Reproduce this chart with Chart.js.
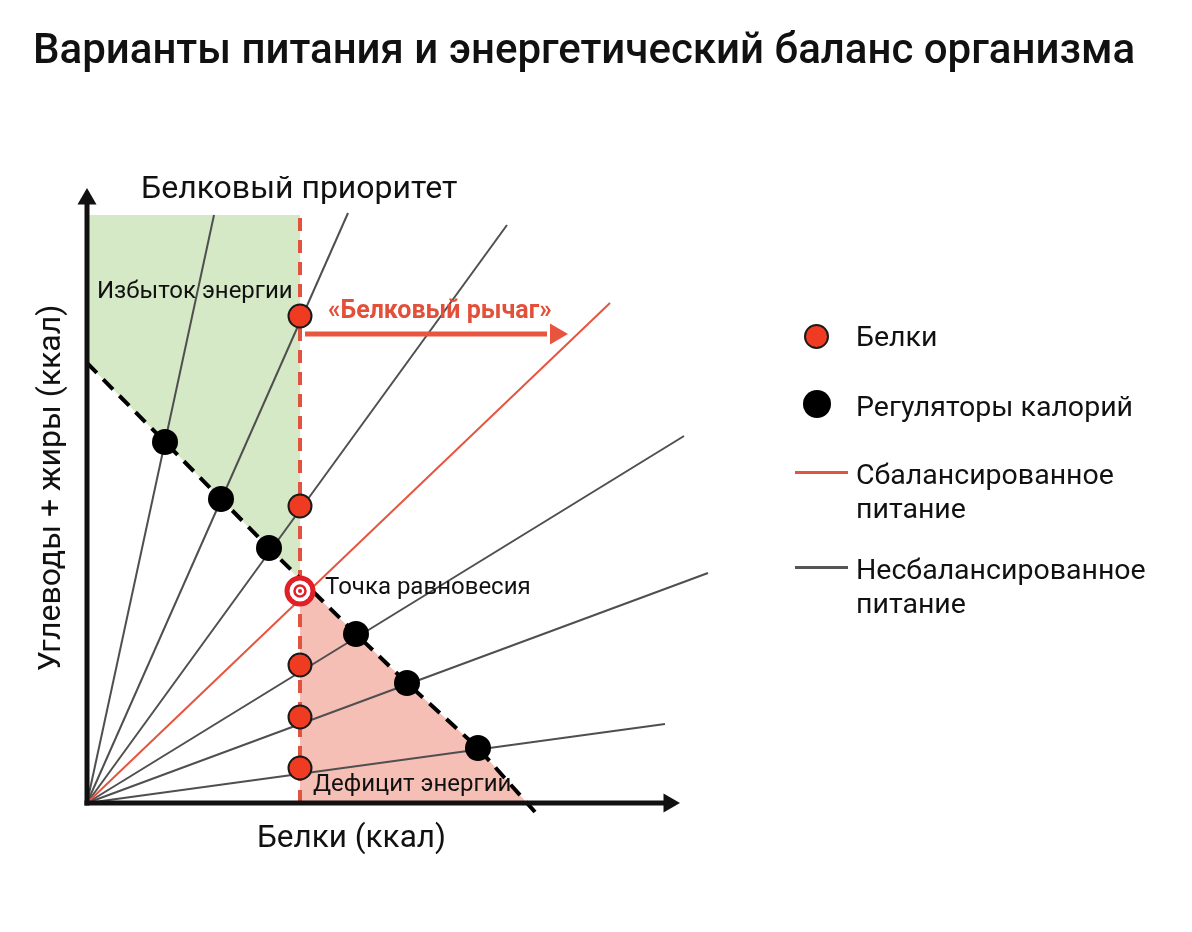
<!DOCTYPE html>
<html lang="ru">
<head>
<meta charset="utf-8">
<title>Варианты питания и энергетический баланс организма</title>
<script src="https://cdn.jsdelivr.net/npm/chart.js@4.4.1/dist/chart.umd.min.js"></script>
<style>
  body { margin: 0; background: #fff; }
  .wrap { position: relative; width: 1192px; height: 932px; overflow: hidden;
          font-family: Roboto, "Noto Sans", sans-serif; color: #111; }
  .wrap canvas { position: absolute; left: 0; top: 0; }
  .t { position: absolute; line-height: 1; white-space: nowrap; }
  .title { left: 33px; top: 28px; font-size: 42px; font-weight: 500; }
  .prio { left: 141px; top: 171px; font-size: 32px; }
  .note { font-size: 24px; }
  .lever { left: 328px; top: 297px; font-size: 25px; font-weight: 700; color: #e3503a; }
  .xtitle { left: 257px; top: 821px; font-size: 31.5px; }
  .ytitle { left: -151px; top: 472px; width: 400px; text-align: center; font-size: 32px;
            transform: rotate(-90deg); }
  .leg { left: 856px; font-size: 28.5px; }
  .leg2 { line-height: 34px; }
  .dot { position: absolute; border-radius: 50%; box-sizing: border-box; }
  .bar { position: absolute; height: 3px; width: 53px; left: 795px; }
</style>
</head>
<body>
<div class="wrap">
  <canvas id="chart" width="1192" height="932"></canvas>

  <div class="t title">Варианты питания и энергетический баланс организма</div>
  <div class="t prio">Белковый приоритет</div>
  <div class="t note" style="left:97px;top:278px">Избыток энергии</div>
  <div class="t lever">«Белковый рычаг»</div>
  <div class="t note" style="left:325px;top:574px">Точка равновесия</div>
  <div class="t note" style="left:313px;top:771px">Дефицит энергии</div>
  <div class="t xtitle">Белки (ккал)</div>
  <div class="t ytitle">Углеводы + жиры (ккал)</div>

  <!-- легенда -->
  <div class="dot" style="left:804px;top:324px;width:25px;height:25px;background:#ef3b22;border:2px solid #1a1a1a"></div>
  <div class="t leg" style="top:323px">Белки</div>
  <div class="dot" style="left:803px;top:390px;width:28px;height:28px;background:#000"></div>
  <div class="t leg" style="top:393px">Регуляторы калорий</div>
  <div class="bar" style="top:471px;background:#e0553f"></div>
  <div class="t leg leg2" style="top:458px">Сбалансированное<br>питание</div>
  <div class="bar" style="top:566px;background:#555"></div>
  <div class="t leg leg2" style="top:553px">Несбалансированное<br>питание</div>
</div>

<script>
// Единицы условные: начало координат - угол осей
// Белки (красные точки) на вертикали белкового приоритета
const proteinX = 21.3;
const proteinY = [48.7, 29.7, 13.8, 8.6, 3.5];

// Регуляторы калорий (черные точки) на линии энергобаланса
const regulatorX = [7.8, 13.4, 18.2, 26.9, 32.0, 39.1];
const regulatorY = [36.1, 30.4, 25.5, 16.9, 12.0, 5.5];

// Линия энергобаланса (пунктир): начало на оси Y и конец под осью X
const balanceStart = [0, 44.0];
const balanceEnd = [44.8, -0.9];
const balanceAtPriority = 22.3; // где пунктир пересекает вертикаль
const deficitCornerX = 44.0;

// Концы несбалансированных лучей из начала координат
const unbalancedEndX = [12.7, 26.1, 42.0, 59.7, 62.1, 57.8];
const unbalancedEndY = [58.8, 59.0, 57.8, 36.7, 23.0, 7.9];

// Сбалансированное питание
const balancedEnd = [52.3, 50.0];
const equilibrium = [21.3, 21.2];

const priorityTop = 58.8;
const leverY = 46.9;
const leverFrom = 21.8;
const leverTo = 46.0;
const leverTip = 46.9;
const axisMaxX = 58.2;
const axisMaxY = 60.4;

const RED = '#e2533f';
const GRAY = '#4f4f4f';

function pt(x, y) { return { x: x, y: y }; }

function line(points, opts) {
    return Object.assign({
        data: points,
        pointRadius: 0,
        borderWidth: 2,
        fill: false,
        tension: 0,
        clip: false,
        order: 2
    }, opts);
}

const regulators = regulatorX.map(function (x, i) { return pt(x, regulatorY[i]); });

// зеленая зона: избыток энергии
const excessShape = [pt(0, priorityTop), pt(proteinX, priorityTop), pt(proteinX, balanceAtPriority)]
    .concat(regulators.filter(function (p) { return p.x < proteinX; }).reverse())
    .concat([pt(balanceStart[0], balanceStart[1])]);

// розовая зона: дефицит энергии
const deficitShape = [pt(proteinX, balanceAtPriority)]
    .concat(regulators.filter(function (p) { return p.x > proteinX; }))
    .concat([pt(deficitCornerX, 0), pt(proteinX, 0)]);

const datasets = [];

// мишень - точка равновесия
datasets.push(line([pt(equilibrium[0], equilibrium[1])], {
    showLine: false, pointRadius: 2, pointBackgroundColor: '#e01f26', pointBorderWidth: 0, order: 0
}));
datasets.push(line([pt(equilibrium[0], equilibrium[1])], {
    showLine: false, pointRadius: 5.5, pointBackgroundColor: '#fff', pointBorderColor: '#e01f26', pointBorderWidth: 2.5, order: 0
}));
datasets.push(line([pt(equilibrium[0], equilibrium[1])], {
    showLine: false, pointRadius: 13, pointBackgroundColor: '#fff', pointBorderColor: '#e01f26', pointBorderWidth: 5, order: 0
}));

// белки
datasets.push(line(proteinY.map(function (y) { return pt(proteinX, y); }), {
    showLine: false, pointRadius: 11.5, pointBackgroundColor: '#ef3b22', pointBorderColor: '#1a1a1a', pointBorderWidth: 2, order: 0
}));
// регуляторы калорий
datasets.push(line(regulators, {
    showLine: false, pointRadius: 13, pointBackgroundColor: '#000', pointBorderWidth: 0, order: 0
}));

// стрелки осей и «белкового рычага»
datasets.push(line([pt(0, axisMaxY), pt(axisMaxX, 0)], {
    showLine: false, pointStyle: 'triangle', pointRadius: 11, pointRotation: [0, 90],
    pointBackgroundColor: '#111', pointBorderWidth: 0, order: 1
}));
datasets.push(line([pt(leverTip, leverY)], {
    showLine: false, pointStyle: 'triangle', pointRadius: 12, pointRotation: 90,
    pointBackgroundColor: '#e8543e', pointBorderWidth: 0, order: 1
}));
datasets.push(line([pt(leverFrom, leverY), pt(leverTo, leverY)], {
    borderColor: '#e8543e', borderWidth: 5, order: 1
}));

// оси
datasets.push(line([pt(0, 0), pt(0, axisMaxY)], { borderColor: '#111', borderWidth: 5, borderCapStyle: 'square', order: 1 }));
datasets.push(line([pt(0, 0), pt(axisMaxX, 0)], { borderColor: '#111', borderWidth: 5, borderCapStyle: 'square', order: 1 }));

// линия энергобаланса
datasets.push(line([pt(balanceStart[0], balanceStart[1])].concat(regulators, [pt(balanceEnd[0], balanceEnd[1])]), {
    borderColor: '#000', borderWidth: 4, borderDash: [14, 9], order: 1
}));
// вертикаль белкового приоритета
datasets.push(line([pt(proteinX, 0), pt(proteinX, priorityTop)], {
    borderColor: RED, borderWidth: 4, borderDash: [13, 9], order: 1
}));

// сбалансированное питание
datasets.push(line([pt(0, 0), pt(balancedEnd[0], balancedEnd[1])], { borderColor: '#e5553f', borderWidth: 2 }));
// несбалансированное питание
unbalancedEndX.forEach(function (x, i) {
    datasets.push(line([pt(0, 0), pt(x, unbalancedEndY[i])], { borderColor: GRAY, borderWidth: 2 }));
});

// зоны
datasets.push(line(excessShape, { borderWidth: 0, borderColor: 'rgba(0,0,0,0)', backgroundColor: '#d6e9c6', fill: 'shape', order: 3 }));
datasets.push(line(deficitShape, { borderWidth: 0, borderColor: 'rgba(0,0,0,0)', backgroundColor: '#f6bfb6', fill: 'shape', order: 3 }));

const ctx = document.getElementById('chart').getContext('2d');
const myChart = new Chart(ctx, {
    type: 'line',
    data: { datasets: datasets },
    options: {
        responsive: false,
        animation: false,
        events: [],
        layout: { padding: { left: 87, top: 183, right: 405, bottom: 129 } },
        scales: {
            x: { type: 'linear', min: 0, max: 70, display: false },
            y: { type: 'linear', min: 0, max: 62, display: false }
        },
        plugins: { legend: { display: false }, tooltip: { enabled: false } }
    }
});
</script>
</body>
</html>
